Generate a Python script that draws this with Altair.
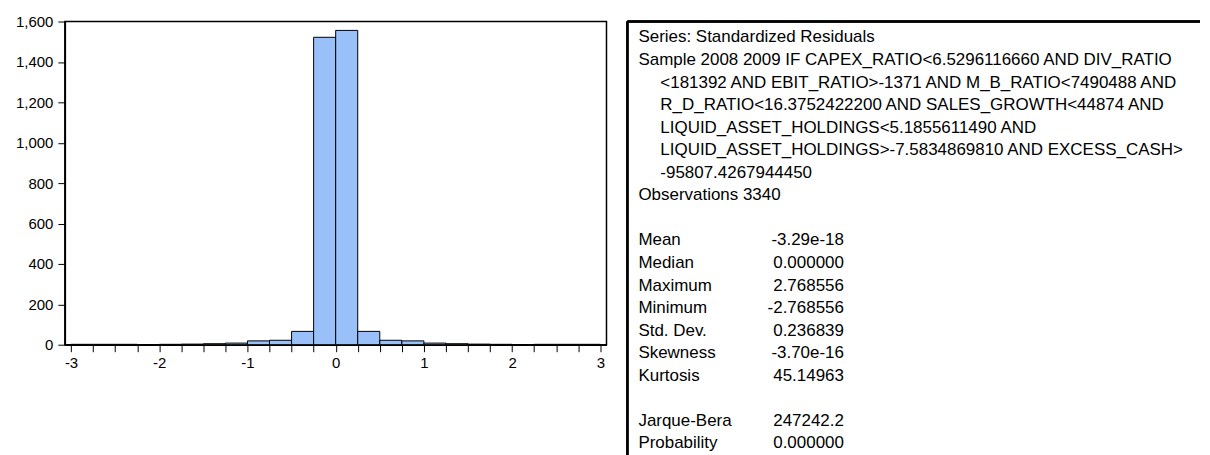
import altair as alt
import pandas as pd

# ---- histogram data (bins of width 0.25 from -3 to 3) ----
bin_start = [-3.0, -2.75, -2.5, -2.25, -2.0, -1.75, -1.5, -1.25, -1.0, -0.75, -0.5, -0.25,
             0.0, 0.25, 0.5, 0.75, 1.0, 1.25, 1.5, 1.75, 2.0, 2.25, 2.5, 2.75]
bin_width = 0.25
counts = [2, 2, 2, 0, 2, 3, 5, 8, 19, 22, 66, 1522,
          1556, 66, 22, 19, 8, 5, 3, 2, 0, 2, 2, 2]
y_ticks = [0, 200, 400, 600, 800, 1000, 1200, 1400, 1600]
x_ticks = [-3 + 0.25 * i for i in range(25)]

# ---- statistics panel text ----
header_lines = [
    "Series: Standardized Residuals",
    "Sample 2008 2009 IF CAPEX_RATIO<6.5296116660 AND DIV_RATIO",
    "<181392 AND EBIT_RATIO>-1371 AND M_B_RATIO<7490488 AND",
    "R_D_RATIO<16.3752422200 AND SALES_GROWTH<44874 AND",
    "LIQUID_ASSET_HOLDINGS<5.1855611490 AND",
    "LIQUID_ASSET_HOLDINGS>-7.5834869810 AND EXCESS_CASH>",
    "-95807.4267944450",
    "Observations 3340",
]
header_indent = [0, 0, 1, 1, 1, 1, 1, 0]
header_line_no = [0, 1, 2, 3, 4, 5, 6, 7]

stat_names = ["Mean", "Median", "Maximum", "Minimum", "Std. Dev.", "Skewness",
              "Kurtosis", "Jarque-Bera", "Probability"]
stat_values = ["-3.29e-18", "0.000000", "2.768556", "-2.768556", "0.236839",
               "-3.70e-16", "45.14963", "247242.2", "0.000000"]
stat_line_no = [9, 10, 11, 12, 13, 14, 15, 17, 18]

FONT = "Liberation Sans"
TXT = 17
BAR_COLOR = "#99c0f9"
PANEL_W = 574
PANEL_H = 435

hist_df = pd.DataFrame({
    "start": bin_start,
    "end": [s + bin_width for s in bin_start],
    "count": counts,
})

hist = alt.Chart(hist_df).mark_rect(
    fill=BAR_COLOR, stroke="black", strokeWidth=1
).encode(
    x=alt.X("start:Q",
            scale=alt.Scale(domain=[-3.07, 3.07], nice=False, zero=False),
            axis=alt.Axis(values=x_ticks, title=None, tickSize=7, labelPadding=4,
                          labelExpr="datum.value % 1 == 0 ? '' + datum.value : ''",
                          labelFlush=False, labelOverlap=False)),
    x2="end:Q",
    y=alt.Y("count:Q",
            scale=alt.Scale(domain=[0, 1600], nice=False),
            axis=alt.Axis(values=y_ticks, format=",d", title=None, tickSize=7,
                          labelPadding=5, minExtent=51, maxExtent=51)),
    y2=alt.datum(0),
).properties(width=543, height=324,
             view=alt.ViewBackground(stroke="black", strokeWidth=1.5))

head_df = pd.DataFrame({"text": header_lines, "indent": header_indent, "line": header_line_no})
stat_df = pd.DataFrame({"name": stat_names, "value": stat_values, "line": stat_line_no})

yline = alt.Y("line:Q", scale=alt.Scale(domain=[0, 18], range=[16, 423]), axis=None)

head = alt.Chart(head_df).mark_text(
    align="left", baseline="middle", font=FONT, fontSize=TXT, color="black"
).encode(
    x=alt.X("indent:Q", scale=alt.Scale(domain=[0, 1], range=[11, 33]), axis=None),
    y=yline,
    text="text:N",
)

names = alt.Chart(stat_df).mark_text(
    align="left", baseline="middle", font=FONT, fontSize=TXT, color="black"
).encode(
    x=alt.value(11),
    y=yline,
    text="name:N",
)

vals = alt.Chart(stat_df).mark_text(
    align="right", baseline="middle", font=FONT, fontSize=TXT, color="black"
).encode(
    x=alt.value(217),
    y=yline,
    text="value:N",
)

# box edges of the statistics panel (left and top; the rest runs off the page)
left_edge = alt.Chart(stat_df).mark_rule(color="black", strokeWidth=1.5).encode(
    x=alt.value(0), y=alt.value(0), y2=alt.value(PANEL_H)
)
top_edge = alt.Chart(stat_df).mark_rule(color="black", strokeWidth=1.5).encode(
    x=alt.value(0), x2=alt.value(PANEL_W), y=alt.value(0)
)

panel = alt.layer(left_edge, top_edge, head, names, vals).properties(
    width=PANEL_W, height=PANEL_H,
    view=alt.ViewBackground(stroke="transparent")
)

chart = alt.hconcat(hist, panel, spacing=21, bounds="flush").properties(
    padding={"left": 5, "top": 5, "right": 0, "bottom": 0},
    background="white",
).configure_axis(
    grid=False, domainColor="black", domainWidth=1.5, tickColor="black",
    labelColor="black", labelFont=FONT, labelFontSize=15
)

chart.save("out.html", embed_options={"renderer": "svg", "actions": False})
